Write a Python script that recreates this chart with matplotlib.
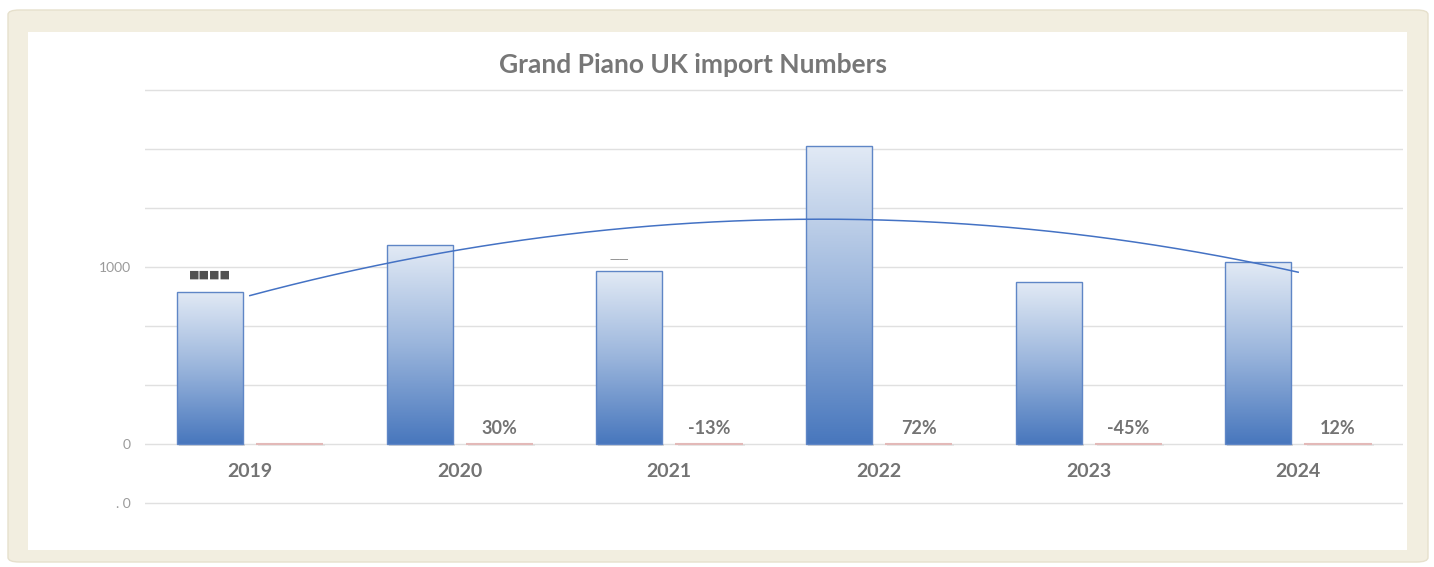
import matplotlib
matplotlib.use("Agg")
import matplotlib.pyplot as plt
import matplotlib.patches as patches
from matplotlib.colors import LinearSegmentedColormap
import numpy as np

# Data
years = ['2019', '2020', '2021', '2022', '2023', '2024']
imports = [859, 1124, 977, 1684, 915, 1028]
growth = [0.0, 0.30, -0.13, 0.72, -0.45, 0.12]
growth_labels = ['', '30%', '-13%', '72%', '-45%', '12%']
tick_values = [-1000 / 3, 0, 1000 / 3, 2000 / 3, 1000, 4000 / 3, 5000 / 3, 2000]
tick_labels = ['. 0', '0', '', '', '1000', '', '', '']

plt.rcParams['font.family'] = ['Lato', 'DejaVu Sans']

W, H = 1434, 567
fig = plt.figure(figsize=(W / 100, H / 100), dpi=100)
fig.patch.set_facecolor('white')

# beige frame + white panel (pixel coords from top-left)
def frac(x, y, w, h):
    return x / W, 1 - (y + h) / H, w / W, h / H

fx, fy, fw, fh = frac(8, 10, 1420, 552)
fig.patches.append(patches.FancyBboxPatch((fx, fy), fw, fh, boxstyle="round,pad=0,rounding_size=0.008",
                                          transform=fig.transFigure, facecolor='#f2eee0',
                                          edgecolor='#e6e0cc', linewidth=1, zorder=-2))
ix, iy, iw, ih = frac(28, 32, 1379, 518)
fig.patches.append(patches.Rectangle((ix, iy), iw, ih, transform=fig.transFigure,
                                     facecolor='white', edgecolor='none', zorder=-1))

# axes placed so 0 sits at y=444px and 2000 at y=90px
ax = fig.add_axes([145 / W, 1 - 512 / H, 1258 / W, 430 / H])
ax.set_zorder(1)
ax.set_facecolor('none')
for s in ax.spines.values():
    s.set_visible(False)
ax.set_xticks([])
ax.set_yticks(tick_values)
ax.set_yticklabels(tick_labels)
ax.tick_params(axis='y', length=0, pad=10, labelsize=10, labelcolor='#9a9a9a')
ax.grid(axis='y', color='#e0e0e0', linewidth=1)
ax.set_axisbelow(True)

x = np.arange(len(years))
off = 0.19
bw = 0.315

cmap = LinearSegmentedColormap.from_list('bar', ['#4877bd', '#9ab5dc', '#e2eaf5'])
grad = np.linspace(0, 1, 256).reshape(-1, 1)

bars = ax.bar(x - off, imports, width=bw, facecolor='none', edgecolor='#5f86c6',
              linewidth=1, zorder=3)
for b in bars:
    bx, by = b.get_x(), b.get_y()
    bh, bwid = b.get_height(), b.get_width()
    # soft shadow under bar
    ax.add_patch(patches.Rectangle((bx + 0.01, by - 12), bwid, 12, facecolor='#b0b0b0',
                                   edgecolor='none', alpha=0.45, zorder=2))
    im = ax.imshow(grad, cmap=cmap, aspect='auto', origin='lower',
                   extent=[bx, bx + bwid, by, by + bh], zorder=2.5)
    im.set_clip_path(b)
ax.set_xlim(-0.5, 5.5)
ax.set_ylim(-384, 2045)

# growth series: near-zero bars, show as thin pink lines
gbars = ax.bar(x + off, growth, width=0.32, facecolor='#e8c4c3', edgecolor='#e3b9b8',
               linewidth=1.5, zorder=3)
for b in gbars:
    ax.add_patch(patches.Rectangle((b.get_x() + 0.01, -9), b.get_width(), 8, facecolor='#d8d8d8',
                                   edgecolor='none', alpha=0.5, zorder=2))

for i, lab in enumerate(growth_labels):
    ax.text(x[i] + off, 40, lab, ha='center', va='bottom', fontsize=13,
            fontweight='bold', color='#737373', zorder=4)

for i, yr in enumerate(years):
    ax.text(x[i], -153, yr, ha='center', va='center', fontsize=14,
            fontweight='bold', color='#737373')

# obscured data labels
ax.text(x[0] - off, 955, '■■■■', ha='center', va='center', fontsize=8,
        color='#505050', family='DejaVu Sans')
ax.text(x[2] - 0.24, 1045, '——', ha='center', va='center', fontsize=7,
        color='#808080', family='DejaVu Sans')

# 2nd order polynomial trendline
coef = np.polyfit(x, imports, 2)
xs = np.linspace(x[0], x[-1], 200)
ax.plot(xs, np.polyval(coef, xs), color='#4472c4', linewidth=1.1, zorder=5)

fig.text(693 / W, 1 - 65 / H, 'Grand Piano UK import Numbers', ha='center', va='center',
         fontsize=19, fontweight='bold', color='#777777')

fig.savefig('out.png', dpi=100)
